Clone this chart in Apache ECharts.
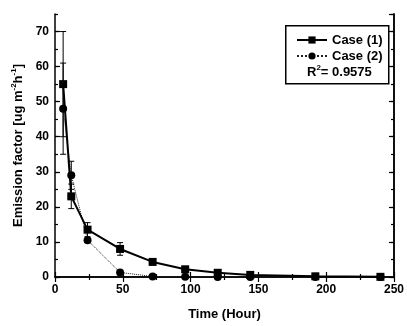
<!DOCTYPE html>
<html>
<head>
<meta charset="utf-8">
<script src="https://cdn.jsdelivr.net/npm/echarts@6/dist/echarts.min.js"></script>
<style>
  html, body { margin: 0; padding: 0; background: #fff; }
  #chart { width: 407px; height: 326px; }
</style>
</head>
<body>
<div id="chart"></div>
<script>
// Sampling times (hours) and measured emission factors
const hours = [6, 12, 24, 48, 72, 96, 120, 144, 192, 240];
const case1 = [55, 23, 13.5, 8, 4.3, 2.2, 1.2, 0.6, 0.2, 0.05];
const case2 = [48, 29, 10.5, 1.3, 0.15, 0.05, 0.02, 0.01, 0, 0];
// Standard deviations
const case1Err = [15, 3.5, 2, 1.8, 0, 0, 0, 0, 0, 0];
const case2Err = [13, 4, 0, 0, 0, 0, 0, 0, 0, 0];
// Axis ranges
const xTicks = [0, 50, 100, 150, 200, 250];
const yTicks = [0, 10, 20, 30, 40, 50, 60, 70];
const fitR2 = '0.9575';

const FONT = '"Liberation Sans", Arial, Helvetica, sans-serif';

function errorBars(values, errs) {
  const data = [];
  hours.forEach((h, i) => {
    if (errs[i] > 0) data.push([h, values[i] - errs[i], values[i] + errs[i]]);
  });
  return {
    type: 'custom',
    data: data,
    encode: { x: 0, y: [1, 2] },
    z: 1,
    silent: true,
    renderItem(params, api) {
      const x = api.value(0);
      const lo = api.coord([x, api.value(1)]);
      const hi = api.coord([x, api.value(2)]);
      const w = 3;
      const st = { stroke: '#000', lineWidth: 1 };
      return {
        type: 'group',
        children: [
          { type: 'line', shape: { x1: lo[0], y1: lo[1], x2: hi[0], y2: hi[1] }, style: st },
          { type: 'line', shape: { x1: lo[0] - w, y1: lo[1], x2: lo[0] + w, y2: lo[1] }, style: st },
          { type: 'line', shape: { x1: hi[0] - w, y1: hi[1], x2: hi[0] + w, y2: hi[1] }, style: st }
        ]
      };
    }
  };
}

const axisLineStyle = { show: true, lineStyle: { color: '#000', width: 1.5 } };
const labelStyle = { fontFamily: FONT, fontWeight: 'bold', fontSize: 12, color: '#000' };
const xMin = xTicks[0], xMax = xTicks[xTicks.length - 1];
const yMin = yTicks[0], yMax = 75;
const xStep = xTicks[1] - xTicks[0];
const yStep = yTicks[1] - yTicks[0];

function xAxisDef(pos, withLabels) {
  return {
    type: 'value', position: pos, min: xMin, max: xMax, interval: xStep,
    axisLine: axisLineStyle,
    axisTick: { show: true, inside: true, length: 5, lineStyle: { color: '#000', width: 1.2 } },
    minorTick: { show: true, splitNumber: 2, length: 3, lineStyle: { color: '#000', width: 1.2 } },
    axisLabel: Object.assign({ show: withLabels, margin: 7 }, labelStyle),
    splitLine: { show: false },
    name: withLabels ? 'Time (Hour)' : '',
    nameLocation: 'middle', nameGap: 31,
    nameTextStyle: { fontFamily: FONT, fontWeight: 'bold', fontSize: 13, color: '#000' }
  };
}

function yAxisDef(pos, step, tickLen, main) {
  return {
    type: 'value', position: pos, min: yMin, max: yMax, interval: step,
    axisLine: main || pos === 'right' ? axisLineStyle : { show: false },
    axisTick: { show: true, inside: true, length: tickLen, lineStyle: { color: '#000', width: 1.2 } },
    axisLabel: Object.assign({
      show: main && pos === 'left', margin: 6, showMaxLabel: false
    }, labelStyle),
    splitLine: { show: false },
    name: main && pos === 'left' ? '{a|Emission factor [ug m}{s|-2}{a|h}{s|-1}{a|]}' : '',
    nameLocation: 'middle', nameGap: 23,
    nameTextStyle: {
      color: '#000',
      rich: {
        a: { fontFamily: FONT, fontWeight: 'bold', fontSize: 13, color: '#000', lineHeight: 16 },
        s: { fontFamily: FONT, fontWeight: 'bold', fontSize: 8, color: '#000', lineHeight: 16, verticalAlign: 'top', padding: [0, 0, 6, 0] }
      }
    }
  };
}

const chart = echarts.init(document.getElementById('chart'), null, { renderer: 'canvas' });
chart.setOption({
  animation: false,
  backgroundColor: '#fff',
  grid: { left: 55, right: 9, top: 14, bottom: 45, containLabel: false },
  xAxis: [xAxisDef('bottom', true), xAxisDef('top', false)],
  yAxis: [
    yAxisDef('left', yStep, 5, true),
    yAxisDef('left', yStep / 2, 3, false),
    yAxisDef('right', yStep, 5, true),
    yAxisDef('right', yStep / 2, 3, false)
  ],
  legend: {
    orient: 'vertical',
    left: 296, top: 33,
    padding: 0,
    itemWidth: 30, itemHeight: 9, itemGap: 2,
    textStyle: { fontFamily: FONT, fontWeight: 'bold', fontSize: 13, color: '#000', lineHeight: 14 },
    data: ['Case (1)', 'Case (2)']
  },
  graphic: [
    {
      type: 'rect', left: 285, top: 25, z: 0,
      shape: { width: 103, height: 58 },
      style: { fill: 'transparent', stroke: '#000', lineWidth: 1.5 }
    },
    {
      type: 'text', left: 307, top: 64,
      style: {
        text: '{a|R}{s|2}{a|= ' + fitR2 + '}',
        rich: {
          a: { fontFamily: FONT, fontWeight: 'bold', fontSize: 13, fill: '#000', lineHeight: 16 },
          s: { fontFamily: FONT, fontWeight: 'bold', fontSize: 8, fill: '#000', lineHeight: 16, verticalAlign: 'top', padding: [0, 0, 6, 0] }
        }
      }
    }
  ],
  series: [
    errorBars(case1, case1Err),
    errorBars(case2, case2Err),
    {
      name: 'Case (1)', type: 'line',
      data: hours.map((h, i) => [h, case1[i]]),
      symbol: 'rect', symbolSize: 8,
      itemStyle: { color: '#000' },
      lineStyle: { color: '#000', width: 2 },
      z: 3
    },
    {
      name: 'Case (2)', type: 'line',
      data: hours.map((h, i) => [h, case2[i]]),
      symbol: 'circle', symbolSize: 8,
      itemStyle: { color: '#000' },
      lineStyle: { color: '#222', width: 1, type: 'dotted' },
      z: 2
    }
  ]
});
</script>
</body>
</html>
